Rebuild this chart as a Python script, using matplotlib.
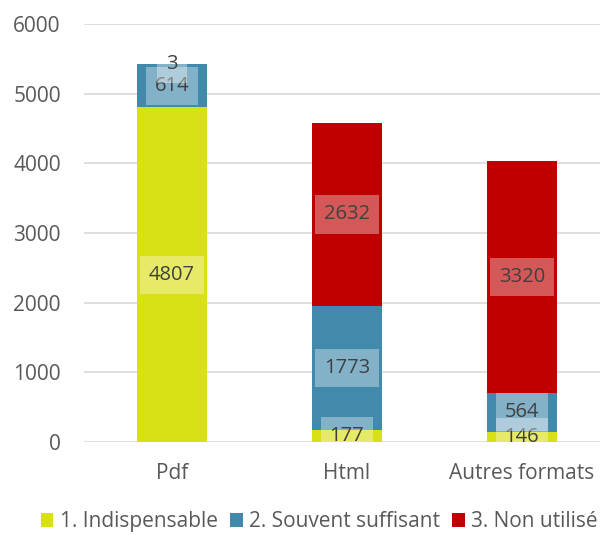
import matplotlib
matplotlib.use("Agg")
import matplotlib.pyplot as plt
import numpy as np

plt.rcParams['font.family'] = ['Open Sans', 'DejaVu Sans']

categories = ["Pdf", "Html", "Autres formats"]
series_names = ["1. Indispensable", "2. Souvent suffisant", "3. Non utilisé"]
indispensable = [4807, 177, 146]
souvent = [614, 1773, 564]
non_utilise = [3, 2632, 3320]
colors = ["#D9E016", "#418AAB", "#C00000"]
yticks = [0, 1000, 2000, 3000, 4000, 5000, 6000]

fig = plt.figure(figsize=(6.0, 5.35), dpi=100)
ax = fig.add_axes([0.1408, 0.1738, 0.875, 0.7813])

x = np.arange(len(categories))
bottom = np.zeros(len(categories))
for vals, name, col in zip([indispensable, souvent, non_utilise], series_names, colors):
    vals = np.array(vals, dtype=float)
    ax.bar(x, vals, 0.4, bottom=bottom, color=col, label=name, zorder=2)
    for xi, b, v in zip(x, bottom, vals):
        ax.text(xi, b + v / 2, f"{int(v)}", ha="center", va="center", fontsize=14.5,
                color="#404040", zorder=4,
                bbox=dict(boxstyle="square,pad=0.45", facecolor="white", alpha=0.35,
                          edgecolor="none"))
    bottom += vals

ax.set_xlim(-0.5, 2.5)
ax.set_ylim(0, 6000)
ax.set_yticks(yticks)
ax.set_yticklabels([str(t) for t in yticks])
ax.set_xticks(x)
ax.set_xticklabels(categories)
ax.tick_params(axis="both", length=0, labelsize=15, colors="#595959")
ax.tick_params(axis="y", pad=17)
ax.tick_params(axis="x", pad=15)
ax.yaxis.grid(True, color="#D9D9D9", linewidth=1.2, zorder=0)
ax.set_axisbelow(True)
for s in ax.spines.values():
    s.set_visible(False)

handles, labels = ax.get_legend_handles_labels()
leg = fig.legend(handles, labels, loc="lower left", bbox_to_anchor=(0.037, -0.03),
                 ncol=3, frameon=False, fontsize=15, handlelength=0.6,
                 handleheight=0.7, handletextpad=0.3, columnspacing=0.6,
                 labelcolor="#595959")

fig.savefig("out.png", dpi=100)
